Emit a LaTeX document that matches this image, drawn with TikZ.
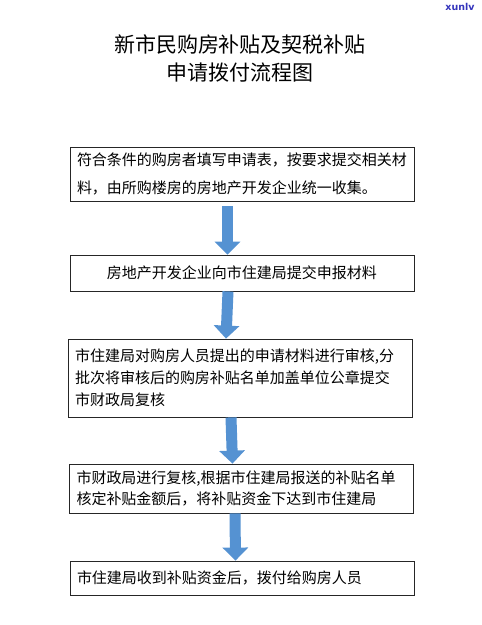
\documentclass[tikz,border=0pt]{standalone}
\usepackage{fontspec}
\newfontfamily\cjk{Noto Sans CJK SC}
\newfontfamily\marksf{DejaVu Sans}
\usetikzlibrary{calc}
\usetikzlibrary{arrows.meta}
\definecolor{flowblue}{HTML}{5592D2}
\definecolor{markblue}{HTML}{3434BC}
\tikzset{
  stepbox/.style={draw=black!85, line width=0.8pt, fill=white,
    minimum width=344pt, text width=330pt, inner xsep=7pt, align=left,
    font=\cjk\fontsize{15}{22}\selectfont},
  flow/.style={draw=flowblue, line width=11pt,
    -{Triangle[width=25pt,length=13pt]}}
}
\begin{document}
\begin{tikzpicture}[x=1pt,y=-1pt]
                    \useasboundingbox[fill=white] (0,0) rectangle (482,625);

                    % title and mark
                    \node[font=\cjk\fontsize{21}{28}\selectfont, align=center] (title) at (240,58)
                        {新市民购房补贴及契税补贴\\申请拨付流程图};
                    \node[font=\marksf\bfseries\fontsize{9.5}{10}\selectfont, text=markblue] (mark) at (460,7) {xunlv};

                    % steps
                    \node[stepbox, minimum height=54pt, font=\cjk\fontsize{15}{28}\selectfont] (box1) at (242,174)
                        {符合条件的购房者填写申请表，按要求提交相关材\\料，由所购楼房的房地产开发企业统一收集。};
                    \node[stepbox, minimum height=36pt, align=center] (box2) at (242,273)
                        {房地产开发企业向市住建局提交申报材料};
                    \node[stepbox, minimum height=78pt] (box3) at (240,378)
                        {市住建局对购房人员提出的申请材料进行审核,分\\批次将审核后的购房补贴名单加盖单位公章提交\\市财政局复核};
                    \node[stepbox, minimum height=49pt, font=\cjk\fontsize{15}{21}\selectfont] (box4) at (241.5,488.5)
                        {市财政局进行复核,根据市住建局报送的补贴名单\\核定补贴金额后，将补贴资金下达到市住建局};
                    \node[stepbox, minimum height=34pt] (box5) at (242,578)
                        {市住建局收到补贴资金后，拨付给购房人员};

                    % arrows
                    \draw[flow] ([xshift=-14.5pt,yshift=-5pt]box1.south) -- ([xshift=-14.5pt]box2.north);
                    \draw[flow] ([xshift=-14pt]box2.south) -- ([xshift=-14pt]box3.north);
                    \draw[flow] ([xshift=-9pt]box3.south) -- ([xshift=-9pt]box4.north);
                    \draw[flow] ([xshift=-6.5pt]box4.south) -- ([xshift=-6.5pt]box5.north);
\end{tikzpicture}
\end{document}
